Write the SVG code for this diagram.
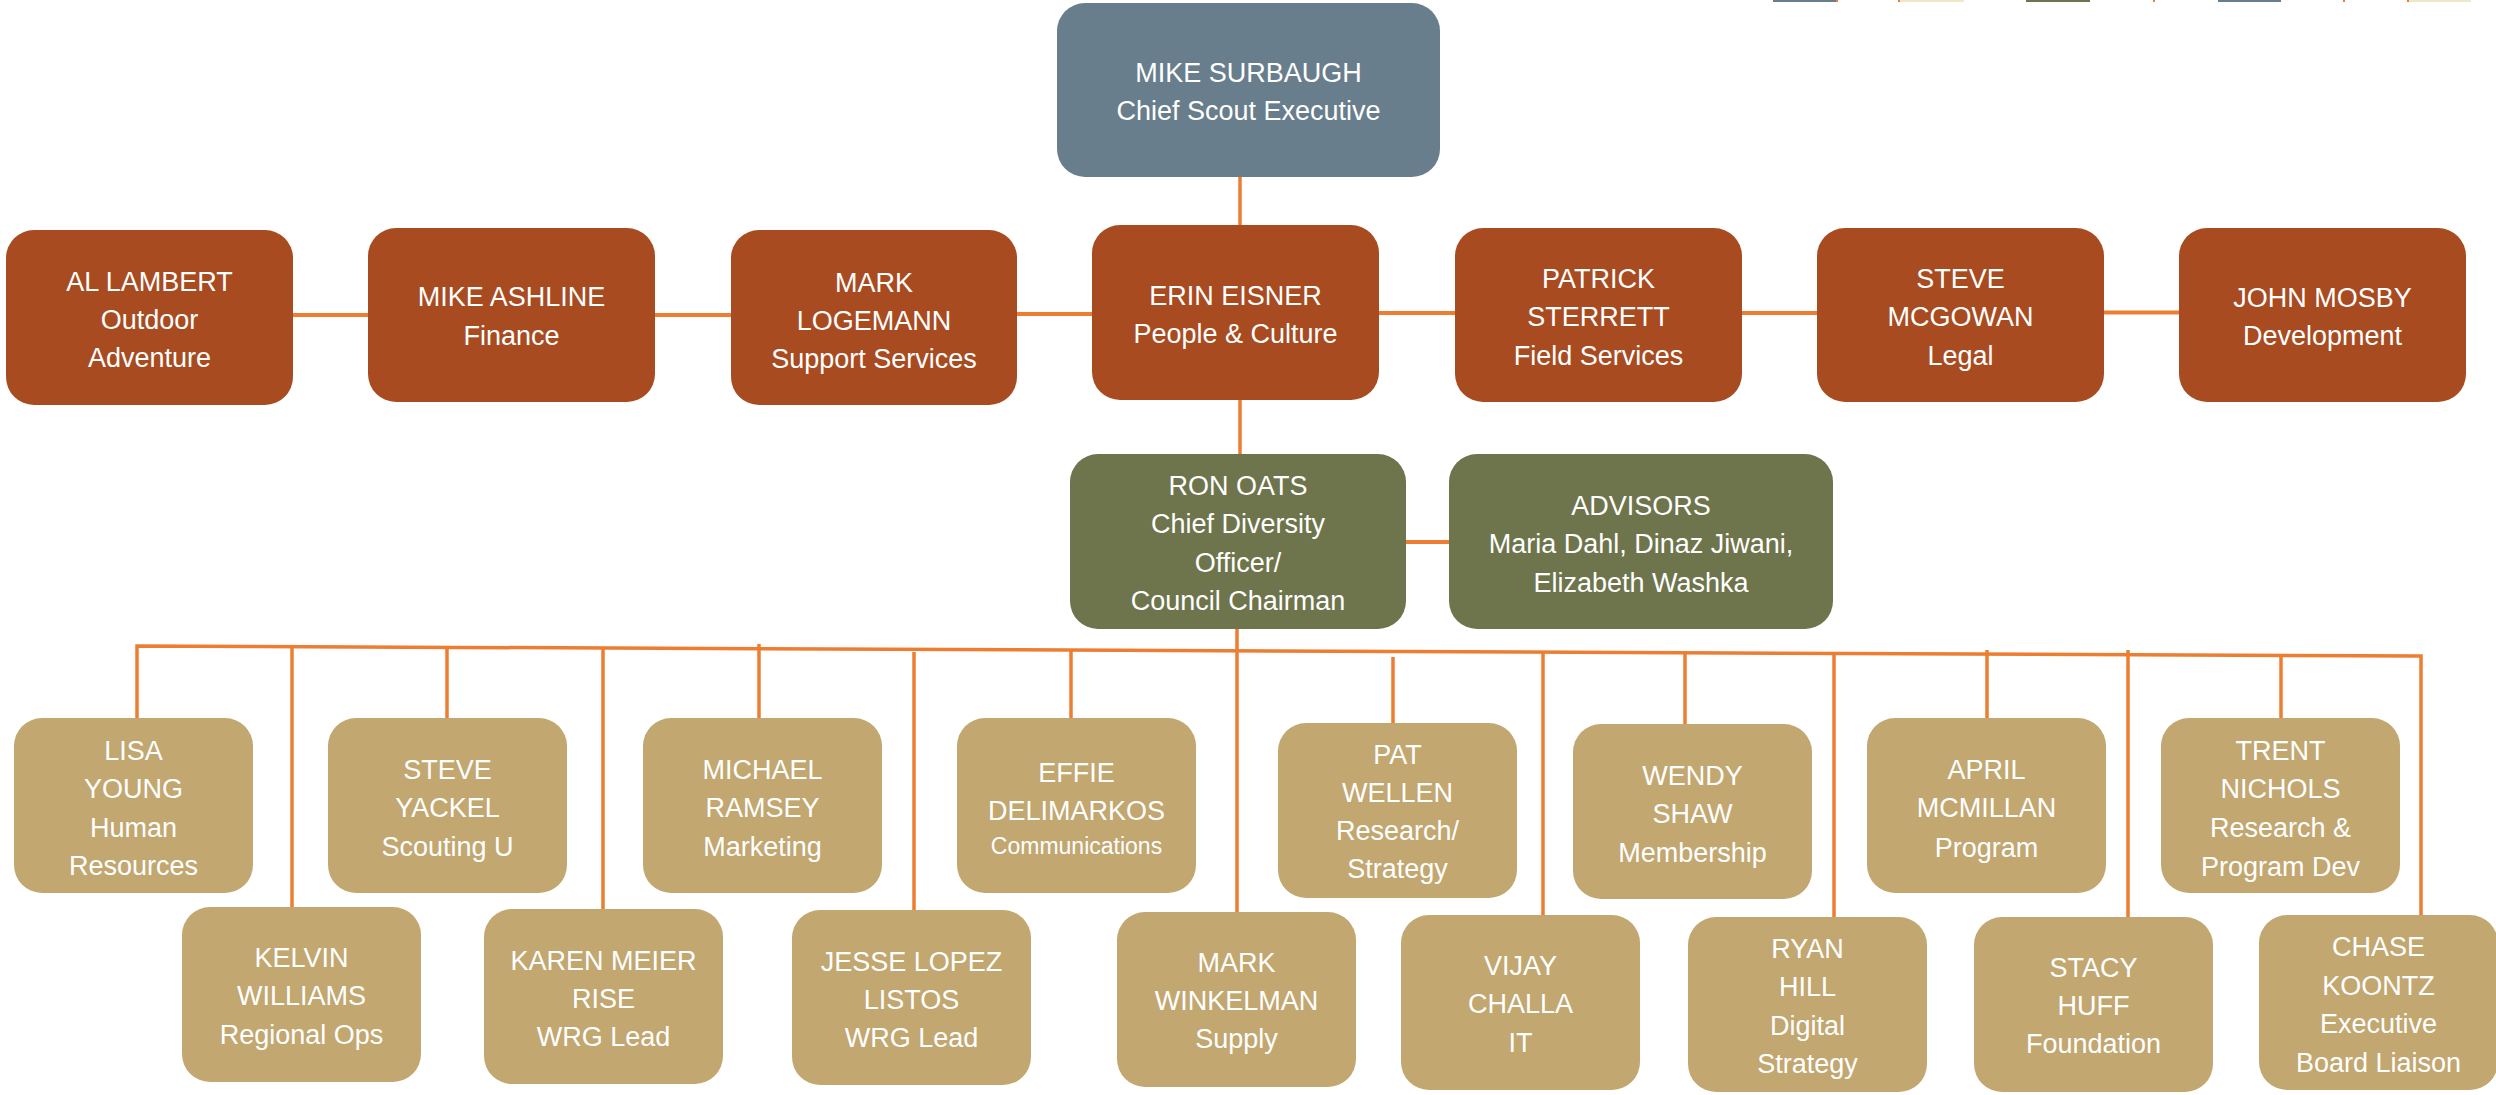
<svg xmlns="http://www.w3.org/2000/svg" width="2496" height="1095" viewBox="0 0 2496 1095">
<style>
.box{stroke:none}
.slate{fill:#687E8C}
.rust{fill:#A84B21}
.green{fill:#6E744B}
.tan{fill:#C2A771}
.t{font-family:"Liberation Sans",Arial,sans-serif;font-size:27px;fill:#FFFFFF;text-anchor:middle}
.s{font-size:23px}
.c{stroke:#ED7D31;stroke-width:3.5;fill:none}
.h{stroke:#ED7D31;stroke-width:4;fill:none}
</style>
<rect width="2496" height="1095" fill="#FFFFFF"/>
<g id="legend-strips">
<rect x="1773" y="0" width="64" height="2" fill="#687E8C"/>
<rect x="1836" y="0" width="2" height="2" fill="#ED7D31"/>
<rect x="1899" y="0" width="65" height="2" fill="#EEE8C8"/>
<rect x="1898" y="0" width="2" height="2" fill="#ED7D31"/>
<rect x="2026" y="0" width="64" height="2" fill="#6E744B"/>
<rect x="2153" y="0" width="2" height="2" fill="#ED7D31"/>
<rect x="2218" y="0" width="63" height="2" fill="#687E8C"/>
<rect x="2343" y="0" width="2" height="2" fill="#ED7D31"/>
<rect x="2408" y="0" width="63" height="2" fill="#EEE8C8"/>
<rect x="2407" y="0" width="2" height="2" fill="#ED7D31"/>
</g>
<g id="connectors">
<line class="c" x1="1240" y1="177" x2="1240" y2="226"/>
<line class="c" x1="1240" y1="399" x2="1240" y2="455"/>
<line class="c" x1="1237" y1="628" x2="1237" y2="913"/>
<line class="h" x1="293" y1="315" x2="369" y2="315"/>
<line class="h" x1="655" y1="315" x2="732" y2="315"/>
<line class="h" x1="1017" y1="314" x2="1093" y2="314"/>
<line class="h" x1="1379" y1="313" x2="1456" y2="313"/>
<line class="h" x1="1742" y1="313" x2="1818" y2="313"/>
<line class="h" x1="2104" y1="312.5" x2="2180" y2="312.5"/>
<line class="h" x1="1405" y1="542" x2="1450" y2="542"/>
<polyline class="c" points="137,719 137,646 2421,656 2421,916"/>
<line class="c" x1="292" y1="646.5" x2="292" y2="908"/>
<line class="c" x1="447" y1="647.4" x2="447" y2="719"/>
<line class="c" x1="603" y1="648" x2="603" y2="910"/>
<line class="c" x1="759" y1="644" x2="759" y2="719"/>
<line class="c" x1="914" y1="652" x2="914" y2="911"/>
<line class="c" x1="1071" y1="650" x2="1071" y2="719"/>
<line class="c" x1="1393" y1="657" x2="1393" y2="724"/>
<line class="c" x1="1543" y1="652.4" x2="1543" y2="916"/>
<line class="c" x1="1685" y1="653" x2="1685" y2="725"/>
<line class="c" x1="1834" y1="653.6" x2="1834" y2="918"/>
<line class="c" x1="1987" y1="650" x2="1987" y2="719"/>
<line class="c" x1="2128" y1="650" x2="2128" y2="918"/>
<line class="c" x1="2281" y1="655.3" x2="2281" y2="719"/>
</g>
<g id="n-surbaugh"><rect class="box slate" x="1057" y="3" width="383" height="174" rx="28"/><text class="t" x="1248.5"><tspan x="1248.5" y="82">MIKE SURBAUGH</tspan><tspan x="1248.5" y="120">Chief Scout Executive</tspan></text></g>
<g id="n-lambert"><rect class="box rust" x="6" y="230" width="287" height="175" rx="28"/><text class="t"><tspan x="149.5" y="291">AL LAMBERT</tspan><tspan x="149.5" y="329">Outdoor</tspan><tspan x="149.5" y="367">Adventure</tspan></text></g>
<g id="n-ashline"><rect class="box rust" x="368" y="228" width="287" height="174" rx="28"/><text class="t"><tspan x="511.5" y="306">MIKE ASHLINE</tspan><tspan x="511.5" y="345">Finance</tspan></text></g>
<g id="n-logemann"><rect class="box rust" x="731" y="230" width="286" height="175" rx="28"/><text class="t"><tspan x="874" y="292">MARK</tspan><tspan x="874" y="330">LOGEMANN</tspan><tspan x="874" y="368">Support Services</tspan></text></g>
<g id="n-eisner"><rect class="box rust" x="1092" y="225" width="287" height="175" rx="28"/><text class="t"><tspan x="1235.5" y="305">ERIN EISNER</tspan><tspan x="1235.5" y="343">People &amp; Culture</tspan></text></g>
<g id="n-sterrett"><rect class="box rust" x="1455" y="228" width="287" height="174" rx="28"/><text class="t"><tspan x="1598.5" y="288">PATRICK</tspan><tspan x="1598.5" y="326">STERRETT</tspan><tspan x="1598.5" y="365">Field Services</tspan></text></g>
<g id="n-mcgowan"><rect class="box rust" x="1817" y="228" width="287" height="174" rx="28"/><text class="t"><tspan x="1960.5" y="288">STEVE</tspan><tspan x="1960.5" y="326">MCGOWAN</tspan><tspan x="1960.5" y="365">Legal</tspan></text></g>
<g id="n-mosby"><rect class="box rust" x="2179" y="228" width="287" height="174" rx="28"/><text class="t"><tspan x="2322.5" y="307">JOHN MOSBY</tspan><tspan x="2322.5" y="345">Development</tspan></text></g>
<g id="n-oats"><rect class="box green" x="1070" y="454" width="336" height="175" rx="28"/><text class="t"><tspan x="1238" y="495">RON OATS</tspan><tspan x="1238" y="533">Chief Diversity</tspan><tspan x="1238" y="572">Officer/</tspan><tspan x="1238" y="610">Council Chairman</tspan></text></g>
<g id="n-advisors"><rect class="box green" x="1449" y="454" width="384" height="175" rx="28"/><text class="t"><tspan x="1641" y="515">ADVISORS</tspan><tspan x="1641" y="553">Maria Dahl, Dinaz Jiwani,</tspan><tspan x="1641" y="592">Elizabeth Washka</tspan></text></g>
<g id="n-young"><rect class="box tan" x="14" y="718" width="239" height="175" rx="28"/><text class="t"><tspan x="133.5" y="760">LISA</tspan><tspan x="133.5" y="798">YOUNG</tspan><tspan x="133.5" y="837">Human</tspan><tspan x="133.5" y="875">Resources</tspan></text></g>
<g id="n-yackel"><rect class="box tan" x="328" y="718" width="239" height="175" rx="28"/><text class="t"><tspan x="447.5" y="779">STEVE</tspan><tspan x="447.5" y="817">YACKEL</tspan><tspan x="447.5" y="856">Scouting U</tspan></text></g>
<g id="n-ramsey"><rect class="box tan" x="643" y="718" width="239" height="175" rx="28"/><text class="t"><tspan x="762.5" y="779">MICHAEL</tspan><tspan x="762.5" y="817">RAMSEY</tspan><tspan x="762.5" y="856">Marketing</tspan></text></g>
<g id="n-delimarkos"><rect class="box tan" x="957" y="718" width="239" height="175" rx="28"/><text class="t"><tspan x="1076.5" y="782">EFFIE</tspan><tspan x="1076.5" y="820">DELIMARKOS</tspan><tspan class="s" x="1076.5" y="854">Communications</tspan></text></g>
<g id="n-wellen"><rect class="box tan" x="1278" y="723" width="239" height="175" rx="28"/><text class="t"><tspan x="1397.5" y="764">PAT</tspan><tspan x="1397.5" y="802">WELLEN</tspan><tspan x="1397.5" y="840">Research/</tspan><tspan x="1397.5" y="878">Strategy</tspan></text></g>
<g id="n-shaw"><rect class="box tan" x="1573" y="724" width="239" height="175" rx="28"/><text class="t"><tspan x="1692.5" y="785">WENDY</tspan><tspan x="1692.5" y="823">SHAW</tspan><tspan x="1692.5" y="862">Membership</tspan></text></g>
<g id="n-mcmillan"><rect class="box tan" x="1867" y="718" width="239" height="175" rx="28"/><text class="t"><tspan x="1986.5" y="779">APRIL</tspan><tspan x="1986.5" y="817">MCMILLAN</tspan><tspan x="1986.5" y="857">Program</tspan></text></g>
<g id="n-nichols"><rect class="box tan" x="2161" y="718" width="239" height="175" rx="28"/><text class="t"><tspan x="2280.5" y="760">TRENT</tspan><tspan x="2280.5" y="798">NICHOLS</tspan><tspan x="2280.5" y="837">Research &amp;</tspan><tspan x="2280.5" y="876">Program Dev</tspan></text></g>
<g id="n-williams"><rect class="box tan" x="182" y="907" width="239" height="175" rx="28"/><text class="t"><tspan x="301.5" y="967">KELVIN</tspan><tspan x="301.5" y="1005">WILLIAMS</tspan><tspan x="301.5" y="1044">Regional Ops</tspan></text></g>
<g id="n-meier"><rect class="box tan" x="484" y="909" width="239" height="175" rx="28"/><text class="t"><tspan x="603.5" y="970">KAREN MEIER</tspan><tspan x="603.5" y="1008">RISE</tspan><tspan x="603.5" y="1046">WRG Lead</tspan></text></g>
<g id="n-lopez"><rect class="box tan" x="792" y="910" width="239" height="175" rx="28"/><text class="t"><tspan x="911.5" y="971">JESSE LOPEZ</tspan><tspan x="911.5" y="1009">LISTOS</tspan><tspan x="911.5" y="1047">WRG Lead</tspan></text></g>
<g id="n-winkelman"><rect class="box tan" x="1117" y="912" width="239" height="175" rx="28"/><text class="t"><tspan x="1236.5" y="972">MARK</tspan><tspan x="1236.5" y="1010">WINKELMAN</tspan><tspan x="1236.5" y="1048">Supply</tspan></text></g>
<g id="n-challa"><rect class="box tan" x="1401" y="915" width="239" height="175" rx="28"/><text class="t"><tspan x="1520.5" y="975">VIJAY</tspan><tspan x="1520.5" y="1013">CHALLA</tspan><tspan x="1520.5" y="1052">IT</tspan></text></g>
<g id="n-hill"><rect class="box tan" x="1688" y="917" width="239" height="175" rx="28"/><text class="t"><tspan x="1807.5" y="958">RYAN</tspan><tspan x="1807.5" y="996">HILL</tspan><tspan x="1807.5" y="1035">Digital</tspan><tspan x="1807.5" y="1073">Strategy</tspan></text></g>
<g id="n-huff"><rect class="box tan" x="1974" y="917" width="239" height="175" rx="28"/><text class="t"><tspan x="2093.5" y="977">STACY</tspan><tspan x="2093.5" y="1015">HUFF</tspan><tspan x="2093.5" y="1053">Foundation</tspan></text></g>
<g id="n-koontz"><rect class="box tan" x="2259" y="915" width="239" height="175" rx="28"/><text class="t"><tspan x="2378.5" y="956">CHASE</tspan><tspan x="2378.5" y="995">KOONTZ</tspan><tspan x="2378.5" y="1033">Executive</tspan><tspan x="2378.5" y="1072">Board Liaison</tspan></text></g>
</svg>
